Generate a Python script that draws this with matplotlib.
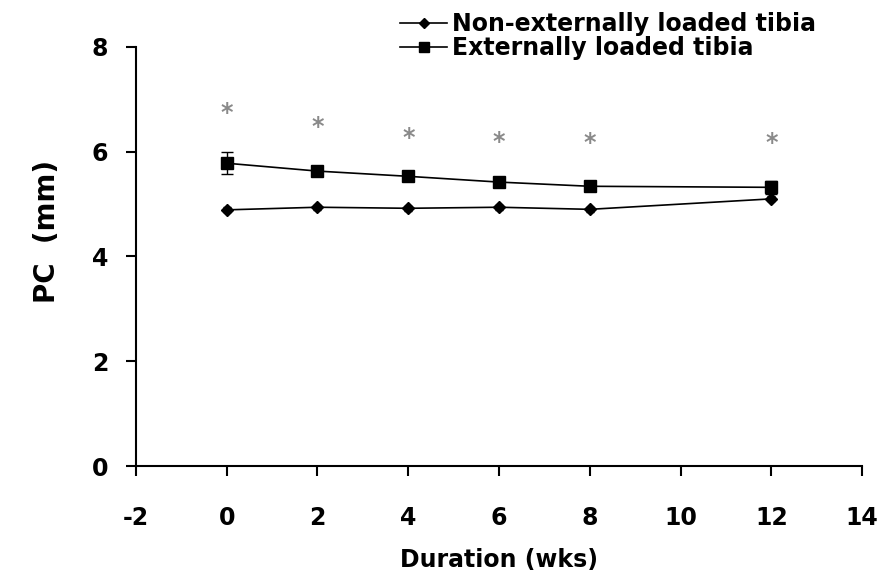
import numpy as np
import matplotlib.pyplot as plt
from matplotlib.lines import Line2D

plt.rcParams['font.family'] = ['DejaVu Sans']
plt.rcParams['font.weight'] = 'bold'
plt.rcParams['axes.unicode_minus'] = False

# Data
weeks = [0, 2, 4, 6, 8, 12]
non_loaded = [4.89, 4.94, 4.92, 4.94, 4.90, 5.10]
non_loaded_err = [0.05, 0.05, 0.05, 0.05, 0.05, 0.05]
loaded = [5.78, 5.63, 5.53, 5.42, 5.34, 5.32]
loaded_err = [0.21, 0.06, 0.08, 0.06, 0.05, 0.12]
star_y = [6.74, 6.47, 6.26, 6.18, 6.16, 6.16]
labels = ['Non-externally loaded tibia', 'Externally loaded tibia']

fig = plt.figure(figsize=(8.88, 5.79), dpi=100)
ax = fig.add_axes([0.153, 0.195, 0.818, 0.724])

ax.errorbar(weeks, non_loaded, yerr=non_loaded_err, color='black', lw=1.2,
            marker='D', ms=6, capsize=3, elinewidth=1)
ax.errorbar(weeks, loaded, yerr=loaded_err, color='black', lw=1.2,
            marker='s', ms=9, capsize=4, elinewidth=1)
for x, y in zip(weeks, star_y):
    ax.text(x, y, '*', color='#8a8a8a', fontsize=17, ha='center', va='center')

ax.set_xlim(-2, 14)
ax.set_ylim(0, 8)
ax.set_xticks(np.arange(-2, 15, 2))
ax.set_yticks(np.arange(0, 9, 2))
ax.spines['top'].set_visible(False)
ax.spines['right'].set_visible(False)
ax.spines['left'].set_linewidth(1.5)
ax.spines['bottom'].set_linewidth(1.5)
ax.tick_params(direction='out', length=7, width=1.5, labelsize=17)
ax.tick_params(axis='x', pad=22)
ax.tick_params(axis='y', pad=13)
ax.set_xlabel('Duration (wks)', fontsize=17, fontweight='bold', labelpad=13)
ax.set_ylabel('PC  (mm)', fontsize=20, fontweight='bold')
ax.yaxis.set_label_coords(-0.103, 0.56)

handles = [Line2D([], [], color='black', lw=1.2, marker='D', ms=5),
           Line2D([], [], color='black', lw=1.2, marker='s', ms=7)]
fig.legend(handles, labels, loc='upper left', bbox_to_anchor=(400 / 888, 1 - 12 / 579),
           frameon=False, fontsize=17, handlelength=2.0, handletextpad=0.2,
           labelspacing=0.0, borderpad=0, borderaxespad=0)

fig.savefig('out.png', dpi=100)
